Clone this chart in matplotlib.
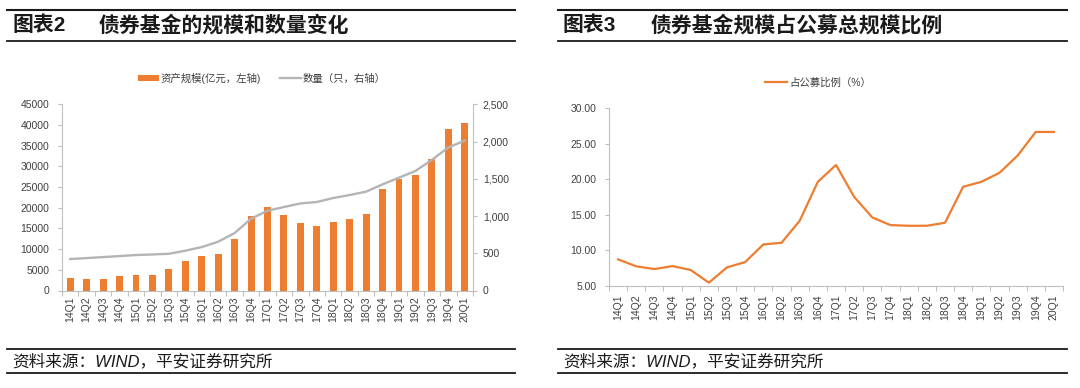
import matplotlib
matplotlib.use('Agg')
import matplotlib.pyplot as plt
from matplotlib.lines import Line2D
from matplotlib.ticker import FuncFormatter, FixedLocator
import numpy as np

plt.rcParams['font.family'] = ['Liberation Sans', 'Noto Sans CJK SC', 'DejaVu Sans']

# ---------------- data ----------------
quarters = ['14Q1', '14Q2', '14Q3', '14Q4', '15Q1', '15Q2', '15Q3', '15Q4',
            '16Q1', '16Q2', '16Q3', '16Q4', '17Q1', '17Q2', '17Q3', '17Q4',
            '18Q1', '18Q2', '18Q3', '18Q4', '19Q1', '19Q2', '19Q3', '19Q4', '20Q1']
asset_scale = [3000, 2750, 2850, 3480, 3720, 3800, 5080, 7020,
               8390, 8710, 12430, 17900, 20170, 18140, 16300, 15580,
               16620, 17180, 18390, 24530, 27020, 27920, 31750, 39120, 40420]
fund_count = [422, 435, 449, 462, 476, 484, 493, 534,
              583, 655, 771, 964, 1071, 1121, 1169, 1188,
              1242, 1282, 1327, 1425, 1515, 1605, 1754, 1920, 2013]
ratio = [8.74, 7.76, 7.38, 7.80, 7.24, 5.47, 7.62, 8.36,
         10.84, 11.07, 14.16, 19.63, 22.00, 17.52, 14.63, 13.55,
         13.46, 13.46, 13.88, 18.93, 19.63, 20.89, 23.32, 26.64, 26.64]

left_title_no = '图表2'
left_title = '债券基金的规模和数量变化'
right_title_no = '图表3'
right_title = '债券基金规模占公募总规模比例'
bar_label = '资产规模(亿元，左轴)'
line_label = '数量（只，右轴）'
ratio_label = '占公募比例（%）'
source = '资料来源：WIND，平安证券研究所'

ORANGE = '#ED7D31'
GRAY_LINE = '#B4B4B4'
SPINE = '#BFBFBF'
TICK_TXT = '#404040'
W, H = 1080, 388

fig = plt.figure(figsize=(W / 100, H / 100), dpi=100)


def axrect(x0, x1, ytop, ybot):
    return [x0 / W, 1 - ybot / H, (x1 - x0) / W, (ybot - ytop) / H]


def hline(x0, x1, y, lw=1.4):
    fig.add_artist(Line2D([x0 / W, x1 / W], [1 - y / H, 1 - y / H],
                          transform=fig.transFigure, color='#1a1a1a', lw=lw))


def style_xaxis(ax, n):
    x = np.arange(n)
    ax.set_xlim(-0.5, n - 0.5)
    ax.set_xticks(x)
    ax.set_xticklabels(quarters, rotation=90, fontsize=7.5, color=TICK_TXT)
    ax.xaxis.set_minor_locator(FixedLocator(np.arange(n + 1) - 0.5))
    ax.tick_params(axis='x', which='major', length=0, pad=4)
    ax.tick_params(axis='x', which='minor', length=3.5, color=SPINE, width=0.8)


# ---------------- left chart ----------------
n = len(quarters)
x = np.arange(n)
ax1 = fig.add_axes(axrect(62, 473, 104.3, 290.5))
ax1.bar(x, asset_scale, width=0.42, color=ORANGE, label=bar_label, zorder=2)
ax1.set_ylim(0, 45000)
ax1.set_yticks(range(0, 45001, 5000))
style_xaxis(ax1, n)
ax1.tick_params(axis='y', length=3, color=SPINE, width=0.8, pad=6,
                labelsize=7.5, labelcolor=TICK_TXT)
for s in ['top', 'right']:
    ax1.spines[s].set_visible(False)
for s in ['left', 'bottom']:
    ax1.spines[s].set_color(SPINE)
    ax1.spines[s].set_linewidth(0.8)

ax1b = ax1.twinx()
ax1b.plot(x, fund_count, color=GRAY_LINE, lw=1.7, label=line_label)
ax1b.set_ylim(0, 2500)
ax1b.set_yticks(range(0, 2501, 500))
ax1b.yaxis.set_major_formatter(FuncFormatter(lambda v, p: f'{int(v):,}'))
ax1b.tick_params(axis='y', length=3, color=SPINE, width=0.8, pad=4,
                 labelsize=7.5, labelcolor=TICK_TXT)
for s in ['top', 'left', 'bottom']:
    ax1b.spines[s].set_visible(False)
ax1b.spines['right'].set_color(SPINE)
ax1b.spines['right'].set_linewidth(0.8)

h1, l1 = ax1.get_legend_handles_labels()
h2, l2 = ax1b.get_legend_handles_labels()
fig.legend(h1 + h2, l1 + l2, loc='center', ncol=2,
           bbox_to_anchor=(262 / W, 1 - 78 / H), frameon=False,
           fontsize=7.5, handlelength=2.0, handleheight=0.5,
           handletextpad=0.2, columnspacing=1.8, labelcolor=TICK_TXT)

# ---------------- right chart ----------------
ax2 = fig.add_axes(axrect(609, 1063, 108, 286))
ax2.plot(x, ratio, color=ORANGE, lw=1.6, label=ratio_label)
ax2.set_ylim(5, 30)
ax2.set_yticks(np.arange(5, 30.01, 5))
ax2.yaxis.set_major_formatter(FuncFormatter(lambda v, p: f'{v:.2f}'))
style_xaxis(ax2, n)
ax2.tick_params(axis='x', which='major', pad=6)
ax2.tick_params(axis='y', length=3, color=SPINE, width=0.8, pad=6,
                labelsize=7.5, labelcolor=TICK_TXT)
for s in ['top', 'right']:
    ax2.spines[s].set_visible(False)
for s in ['left', 'bottom']:
    ax2.spines[s].set_color(SPINE)
    ax2.spines[s].set_linewidth(0.8)
fig.legend(*ax2.get_legend_handles_labels(), loc='center',
           bbox_to_anchor=(818 / W, 1 - 83 / H), frameon=False,
           fontsize=7.5, handlelength=2.2, handletextpad=0.2,
           labelcolor=TICK_TXT)

# ---------------- titles & footers ----------------
for (xa, xb, tx0, tx1, no, ttl) in [(7, 515, 12, 99, left_title_no, left_title),
                                    (558, 1067, 563, 651, right_title_no, right_title)]:
    hline(xa, xb, 9.5, lw=1.5)
    hline(xa, xb, 41, lw=1.3)
    fig.text(tx0 / W, 1 - 25 / H, no, fontsize=15, fontweight='bold',
             va='center', ha='left', color='#1a1a1a')
    fig.text(tx1 / W, 1 - 25 / H, ttl, fontsize=15, fontweight='bold',
             va='center', ha='left', color='#1a1a1a')
    hline(xa, xb, 349, lw=1.3)
    hline(xa, xb, 373, lw=1.3)
    fig.text(tx0 / W, 1 - 361 / H, source, fontsize=12, style='italic',
             va='center', ha='left', color='#1a1a1a')

fig.savefig('out.png', dpi=100)
